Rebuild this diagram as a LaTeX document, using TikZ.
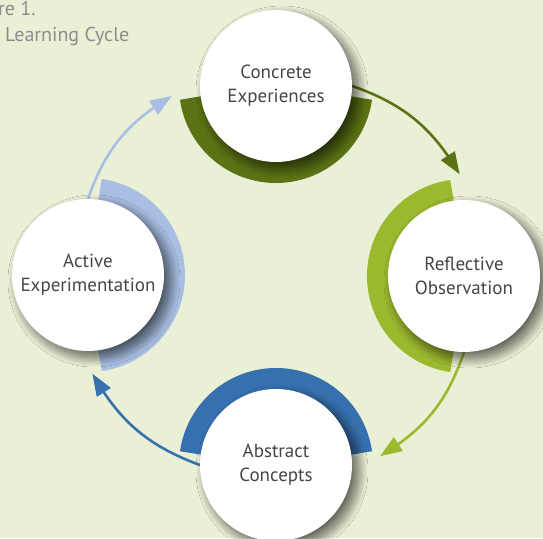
\documentclass[tikz,border=0pt]{standalone}
\usepackage{fontspec}
\setmainfont{PT Sans}
\usetikzlibrary{arrows.meta,calc,shadows.blur,bending}
\definecolor{bgcol}{RGB}{234,240,214}
\definecolor{darkgreen}{RGB}{91,115,20}
\definecolor{lightgreen}{RGB}{155,185,46}
\definecolor{darkblue}{RGB}{55,112,174}
\definecolor{lightblue}{RGB}{168,191,227}
\definecolor{textgray}{RGB}{70,70,70}
\definecolor{titlegray}{RGB}{140,140,140}
\pgfdeclarelayer{back}
\pgfsetlayers{back,main}
\tikzset{
    stage/.style={circle, fill=white, minimum size=152pt, align=center, text=textgray,
        font=\fontsize{19}{24}\selectfont,
        blur shadow={shadow xshift=6pt, shadow yshift=-6pt, shadow blur radius=10pt, shadow blur steps=30, shadow opacity=65}},
    band/.style={line width=23pt},
    flow/.style={line width=2.6pt, -{Triangle[length=22pt,width=16pt]}},
    caption/.style={titlegray, anchor=base west, inner sep=0pt, font=\fontsize{20}{20}\selectfont}
}
\begin{document}
\begin{tikzpicture}[x=1pt,y=1pt]
                \useasboundingbox (-276,-262) rectangle (267,276);

                \node[caption] (fig) at (-278,260) {re 1.};
                \node[caption] (title) at (-271,234) {Learning Cycle};

                \node[stage] (ce) at (0,190) {Concrete\\Experiences};
                \node[stage] (ro) at (188,0) {Reflective\\Observation};
                \node[stage] (ac) at (0,-189) {Abstract\\Concepts};
                \node[stage] (ae) at (-188,1) {Active\\Experimentation};

                \coordinate (t1) at (29:210);
                \coordinate (t2) at (-60:208);
                \coordinate (t3) at (208:208);
                \coordinate (t4) at (120:208);

                \begin{pgfonlayer}{back}
                    \fill[bgcol] (-276,-262) rectangle (267,276);

                    \draw[band,darkgreen] ($(ce)+(188:85.5)$) arc[start angle=188, end angle=352, radius=85.5];
                    \draw[band,lightgreen] ($(ro)+(98:85.5)$) arc[start angle=98, end angle=262, radius=85.5];
                    \draw[band,darkblue] ($(ac)+(8:85.5)$) arc[start angle=8, end angle=172, radius=85.5];
                    \draw[band,lightblue] ($(ae)+(-82:85.5)$) arc[start angle=-82, end angle=82, radius=85.5];

                    \draw[flow,darkgreen] (ce.east) to[bend left=20] (t1);
                    \draw[flow,lightgreen] (ro.south) to[bend left=20] (t2);
                    \draw[flow,darkblue] (ac.west) to[bend left=20] (t3);
                    \draw[flow,lightblue] (ae.north) to[bend left=20] (t4);
                \end{pgfonlayer}
            \end{tikzpicture}
\end{document}
